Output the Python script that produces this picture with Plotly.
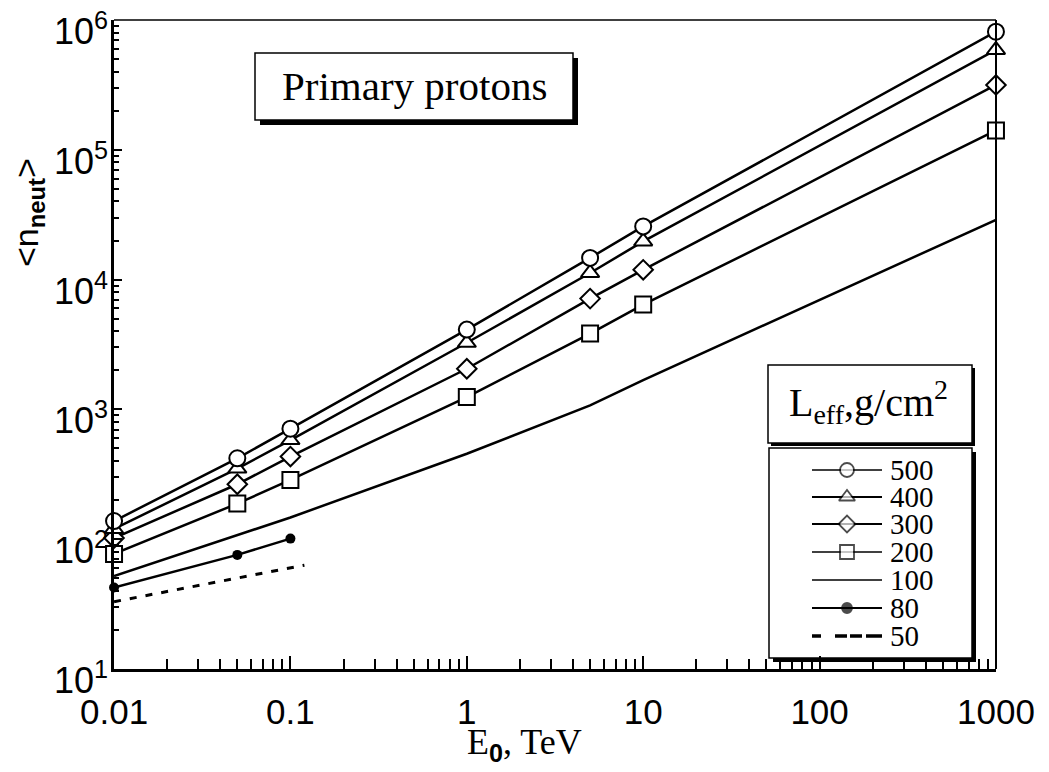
import math
import plotly.graph_objects as go

# ---------------- data ----------------
energy = [0.01, 0.05, 0.1, 1, 5, 10, 1000]
n500 = [138, 420, 710, 4120, 14700, 25700, 813000]
n400 = [120, 350, 580, 3260, 11250, 19700, 588000]
n300 = [102, 265, 433, 2056, 7140, 11900, 316000]
n200 = [77, 188, 286, 1244, 3840, 6420, 141000]
n100 = [52, 108, 147, 455, 1075, 1680, 28900]
energy80 = [0.01, 0.05, 0.1]
n80 = [42.5, 75.7, 101]
energy50 = [0.01, 0.05, 0.1, 0.12]
n50 = [33, 50, 60, 63]

legend_labels = ["500", "400", "300", "200", "100", "80", "50"]
x_ticks = [0.01, 0.1, 1, 10, 100, 1000]
x_ticktext = ["0.01", "0.1", "1", "10", "100", "1000"]
y_ticks = [10, 100, 1000, 1e4, 1e5, 1e6]
y_ticktext = ["10<sup>1</sup>", "10<sup>2</sup>", "10<sup>3</sup>",
              "10<sup>4</sup>", "10<sup>5</sup>", "10<sup>6</sup>"]

SANS = "Liberation Sans, Arial, sans-serif"
SERIF = "Liberation Serif, Times New Roman, serif"

# page offset of the plot div (default body margin)
OFF = 8
W, H = 1049 - OFF, 772 - OFF
# plot area in page pixels
L, R, T, B = 114, 996, 20, 669


def px(x):
    return (x - L) / (R - L)


def py(y):
    return (B - y) / (B - T)


fig = go.Figure()

styles = {
    "500": dict(symbol="circle", size=16, lw=2.5),
    "400": dict(symbol="triangle-up", size=16, lw=2.5),
    "300": dict(symbol="diamond", size=15, lw=2.5),
    "200": dict(symbol="square", size=16, lw=2.5),
}
series = {"500": n500, "400": n400, "300": n300, "200": n200}

for name in ["200", "300", "400", "500"]:
    st = styles[name]
    fig.add_trace(go.Scatter(
        x=energy, y=series[name], mode="lines+markers", name=name,
        line=dict(color="black", width=st["lw"]),
        marker=dict(symbol=st["symbol"], size=st["size"], color="white",
                    line=dict(color="black", width=2)),
        cliponaxis=False, showlegend=False))

fig.add_trace(go.Scatter(
    x=energy, y=n100, mode="lines", name="100",
    line=dict(color="black", width=2.5), showlegend=False))

fig.add_trace(go.Scatter(
    x=energy80, y=n80, mode="lines+markers", name="80",
    line=dict(color="black", width=2.5),
    marker=dict(symbol="circle", size=10, color="black"),
    cliponaxis=False, showlegend=False))

fig.add_trace(go.Scatter(
    x=energy50, y=n50, mode="lines", name="50",
    line=dict(color="black", width=3, dash="7px,9px"), showlegend=False))

# ---------------- manual legend ----------------
row_y = [470, 497, 524, 552, 580, 608, 636]
lx0, lx1, lxm = 812, 882, 847
leg_styles = [
    dict(symbol="circle", size=14, fill="white", lw=1.3),
    dict(symbol="triangle-up", size=14, fill="white", lw=2.2),
    dict(symbol="diamond", size=13, fill="white", lw=2.2),
    dict(symbol="square", size=14, fill="white", lw=1.3),
    None,
    dict(symbol="circle", size=10, fill="black", lw=2.2),
    None,
]
for i, lab in enumerate(legend_labels):
    yy = py(row_y[i])
    st = leg_styles[i]
    if lab == "100":
        fig.add_trace(go.Scatter(x=[px(lx0), px(lx1)], y=[yy, yy], mode="lines",
                                 line=dict(color="black", width=1.5),
                                 xaxis="x2", yaxis="y2", showlegend=False,
                                 hoverinfo="skip"))
    elif lab == "50":
        fig.add_trace(go.Scatter(x=[px(lx0), px(lx1)], y=[yy, yy], mode="lines",
                                 line=dict(color="black", width=3.5,
                                           dash="9px,14px,12px,3px,12px,4px,16px"),
                                 xaxis="x2", yaxis="y2", showlegend=False,
                                 hoverinfo="skip"))
    else:
        fig.add_trace(go.Scatter(x=[px(lx0), px(lxm), px(lx1)], y=[yy, yy, yy],
                                 mode="lines+markers",
                                 line=dict(color="black", width=st["lw"]),
                                 marker=dict(symbol=st["symbol"], size=[0, st["size"], 0],
                                             color=st["fill"],
                                             line=dict(color="black", width=1.8)),
                                 xaxis="x2", yaxis="y2", showlegend=False,
                                 hoverinfo="skip"))

shapes = []


def shadow_box(x0, y0, x1, y1, off=4):
    shapes.append(dict(type="rect", xref="paper", yref="paper",
                       x0=px(x0 + off), x1=px(x1 + off), y0=py(y1 + off), y1=py(y0 + off),
                       fillcolor="black", line=dict(width=0), layer="below"))
    shapes.append(dict(type="rect", xref="paper", yref="paper",
                       x0=px(x0), x1=px(x1), y0=py(y1), y1=py(y0),
                       fillcolor="white", line=dict(color="black", width=1.5),
                       layer="below"))


shadow_box(255, 53, 573, 120, off=5)
shadow_box(768, 365, 972, 443, off=3)
shadow_box(769, 448, 972, 658, off=4)

# thinner top / right frame lines as in the original
shapes.append(dict(type="line", xref="paper", yref="paper", x0=0, x1=1, y0=1, y1=1,
                   line=dict(color="black", width=1.5), layer="above"))
shapes.append(dict(type="line", xref="paper", yref="paper", x0=1, x1=1, y0=0, y1=1,
                   line=dict(color="black", width=2), layer="above"))


def ann(text, x, y, size, family, **kw):
    d = dict(text=text, xref="paper", yref="paper", x=px(x), y=py(y),
             xanchor="center", yanchor="middle", showarrow=False,
             font=dict(family=family, size=size, color="black"))
    d.update(kw)
    return d


annotations = [
    ann("Primary protons", 414, 86, 41, SERIF),
    ann("L<sub>eff</sub>,g/cm<sup>2</sup>", 868, 402, 40, SERIF),
    ann("&lt;n<sub><b>neut</b></sub>&gt;", 28, 213, 34, SANS, textangle=-90),
    ann('E<sub><span style="font-family:Liberation Sans"><b>0</b></span></sub>, TeV',
        524, 744, 36, SERIF),
]
for i, lab in enumerate(legend_labels):
    annotations.append(ann(lab, 888, row_y[i], 29, SERIF, xanchor="left"))

# y tick labels (placed as text tied to the y axis, slightly below each tick as in the original)
for v, t in zip(y_ticks, y_ticktext):
    annotations.append(dict(text=t, xref="paper", yref="y", x=px(110), y=math.log10(v),
                            xanchor="right", yanchor="middle", yshift=-9, showarrow=False,
                            font=dict(family=SANS, size=36, color="black")))

x_minor = [m * 10 ** e for e in range(-2, 3) for m in range(2, 10)]
y_minor = [m * 10 ** e for e in range(1, 6) for m in range(2, 10)]

fig.update_layout(
    width=W, height=H,
    margin=dict(l=L - OFF, r=1049 - R, t=T - OFF, b=772 - B, pad=0),
    paper_bgcolor="white", plot_bgcolor="white",
    showlegend=False,
    xaxis=dict(type="log", range=[-2.0002, 3.0002], tickvals=x_ticks, ticktext=x_ticktext,
               ticks="inside", ticklen=13, tickwidth=1.5, tickcolor="black",
               minor=dict(tickvals=x_minor, ticks="inside", ticklen=10, tickwidth=1.5,
                          tickcolor="black", showgrid=False),
               showgrid=False, zeroline=False, showline=True, linecolor="black",
               linewidth=2.5, mirror=False, ticklabelstandoff=10, automargin=False,
               ticklabeloverflow="allow",
               tickfont=dict(family=SANS, size=35, color="black")),
    yaxis=dict(type="log", range=[0.9998, 6.0002], tickvals=y_ticks,
               showticklabels=False,
               ticks="inside", ticklen=8, tickwidth=1.5, tickcolor="black",
               minor=dict(tickvals=y_minor, ticks="inside", ticklen=5, tickwidth=1.5,
                          tickcolor="black", showgrid=False),
               showgrid=False, zeroline=False, showline=True, linecolor="black",
               linewidth=3, mirror=False, automargin=False),
    xaxis2=dict(overlaying="x", range=[0, 1], visible=False, fixedrange=True),
    yaxis2=dict(overlaying="y", range=[0, 1], visible=False, fixedrange=True),
    shapes=shapes,
    annotations=annotations,
)

fig.write_html("out.html")
